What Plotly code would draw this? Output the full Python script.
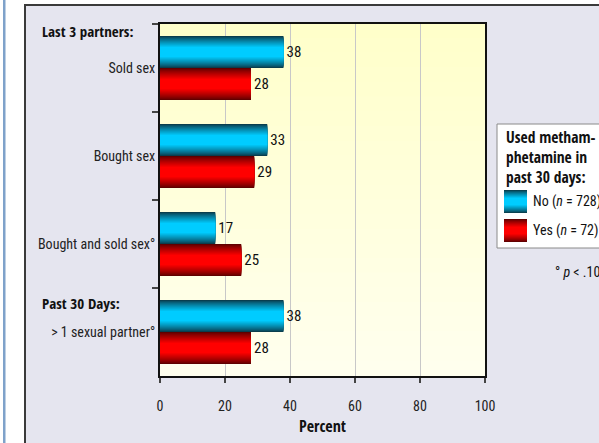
import plotly.graph_objects as go

# ---- data -------------------------------------------------------------
categories = ["Sold sex", "Bought sex", "Bought and sold sex°", "> 1 sexual partner°"]
no_meth = [38, 33, 17, 38]      # did not use methamphetamine (n = 728)
yes_meth = [28, 29, 25, 28]     # used methamphetamine (n = 72)
series_names = ["No (<i>n</i> = 728)", "Yes (<i>n</i> = 72)"]
x_ticks = [0, 20, 40, 60, 80, 100]

# ---- page geometry (pixels) ------------------------------------------
W, H = 599, 443
L, R, T, B = 160, 114, 24, 67          # plot-area margins
PW, PH = W - L - R, H - T - B

FONT = "'Roboto Condensed', 'DejaVu Sans Condensed', sans-serif"
BOLD = "'Open Sans Condensed', 'Roboto Condensed', sans-serif"


def px(x):
    return (x - L) / PW


def py(y):
    return (H - B - y) / PH


def mix(c0, c1, t):
    return "rgb({},{},{})".format(*[round(a + (b - a) * t) for a, b in zip(c0, c1)])


BLUE = ((10, 62, 78), (0, 204, 255))
RED = ((96, 0, 0), (255, 0, 0))

BAR_W = 32 / 88          # bar thickness in category units
LAYERS = 12              # nested bars give each bar its shaded, rounded look

fig = go.Figure()

for vals, (dark, bright), centre, name in [
    (no_meth, BLUE, -BAR_W / 2, series_names[0]),
    (yes_meth, RED, BAR_W / 2, series_names[1]),
]:
    for k in range(LAYERS):
        f = 1 - 0.68 * k / (LAYERS - 1)
        t = (k / (LAYERS - 1)) ** 0.85
        w = BAR_W * f
        fig.add_trace(go.Bar(
            x=vals, y=categories, orientation="h",
            width=w, offset=centre - w / 2,
            marker=dict(color=mix(dark, bright, t), line=dict(width=0)),
            text=[str(v) for v in vals] if k == 0 else None,
            textposition="outside" if k == 0 else "none",
            textfont=dict(family=FONT, size=15, color="#111"),
            constraintext="none", cliponaxis=False,
            name=name, showlegend=False, hoverinfo="skip",
        ))

shapes = []
# blue rule at the page edge
shapes.append(dict(type="rect", xref="paper", yref="paper", layer="below",
                   x0=px(3), x1=px(5.5), y0=py(-5), y1=py(H + 5),
                   fillcolor="#7FA2CA", line=dict(width=0)))
# lavender panel behind the chart
shapes.append(dict(type="rect", xref="paper", yref="paper", layer="below",
                   x0=px(25), x1=px(W + 20), y0=py(H + 20), y1=py(5),
                   fillcolor="#E5E5EF", line=dict(color="#3A3A3A", width=2)))
# pale yellow gradient inside the plot area
N_STRIPS = 24
for i in range(N_STRIPS):
    t = i / (N_STRIPS - 1)
    shapes.append(dict(type="rect", xref="x domain", yref="y domain", layer="below",
                       x0=0, x1=1, y0=1 - (i + 1) / N_STRIPS, y1=1 - i / N_STRIPS + 0.002,
                       fillcolor=mix((255, 255, 202), (255, 255, 238), t),
                       line=dict(width=0)))
# legend box
shapes.append(dict(type="rect", xref="paper", yref="paper", layer="above",
                   x0=px(497), x1=px(W + 15), y0=py(248), y1=py(124),
                   fillcolor="white", line=dict(color="#8A8A8A", width=1)))
# legend swatches (shaded like the bars)
for (dark, bright), top in [(BLUE, 190), (RED, 219)]:
    n = 10
    for k in range(n):
        f = 1 - 0.68 * k / (n - 1)
        t = (k / (n - 1)) ** 0.85
        half = 11.5 * f
        shapes.append(dict(type="rect", xref="paper", yref="paper", layer="above",
                           x0=px(504), x1=px(527),
                           y0=py(top + 11.5 + half), y1=py(top + 11.5 - half),
                           fillcolor=mix(dark, bright, t), line=dict(width=0)))

annotations = []


def note(text, x, y, size=14, bold=False, xanchor="left"):
    annotations.append(dict(
        text=f"<b>{text}</b>" if bold else text,
        xref="paper", yref="paper", x=px(x), y=py(y),
        xanchor=xanchor, yanchor="middle", showarrow=False,
        font=dict(family=BOLD if bold else FONT, size=size, color="#111"),
    ))


note("Last 3 partners:", 40, 31, size=15, bold=True)
note("Past 30 Days:", 40, 303, size=15, bold=True)
note("Percent", (L + W - R) / 2, 426, size=16, bold=True, xanchor="center")
note("Used metham-", 504, 137, size=15.5, bold=True)
note("phetamine in", 504, 157, size=15.5, bold=True)
note("past 30 days:", 504, 177, size=15.5, bold=True)
note(series_names[0], 531, 201)
note(series_names[1], 531, 230)
note("° <i>p</i> &lt; .10", 553, 272)

fig.update_layout(
    width=W, height=H,
    margin=dict(l=L, r=R, t=T, b=B, autoexpand=False),
    paper_bgcolor="white", plot_bgcolor="rgba(0,0,0,0)",
    barmode="overlay", showlegend=False,
    font=dict(family=FONT, size=14, color="#222"),
    shapes=shapes, annotations=annotations,
    xaxis=dict(
        range=[0, 100], tickvals=x_ticks, ticks="outside", ticklen=5,
        tickcolor="#444", tickwidth=1.5, showline=True, linecolor="#111",
        linewidth=2, mirror=True, showgrid=True, gridcolor="#C8C8C8",
        gridwidth=1, zeroline=False, automargin=False,
        ticklabelstandoff=11, tickfont=dict(family=FONT, size=14, color="#222"),
    ),
    yaxis=dict(
        type="category", categoryorder="array", categoryarray=categories,
        range=[3.5, -0.5], tickson="boundaries", ticks="outside", ticklen=6,
        tickcolor="#444", tickwidth=1.5, showline=True, linecolor="#111",
        linewidth=2, mirror=True, showgrid=False, zeroline=False,
        automargin=False, tickfont=dict(family=FONT, size=14, color="#222"),
    ),
)

fig.write_html("out.html")
